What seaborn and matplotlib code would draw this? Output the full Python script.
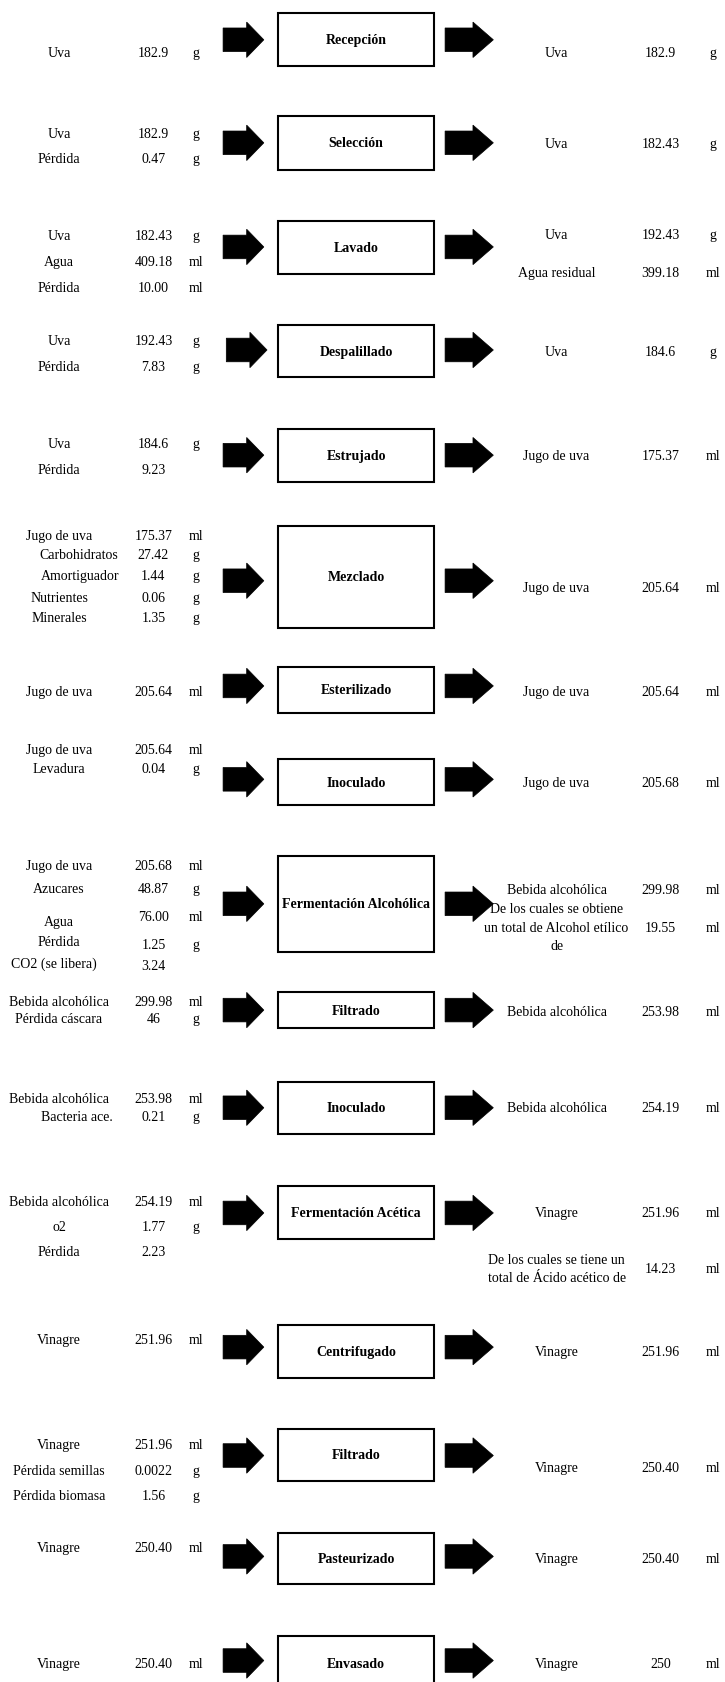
import matplotlib
matplotlib.use("Agg")
import matplotlib.pyplot as plt
from matplotlib.patches import Rectangle, Polygon
import seaborn as sns

# ---------------- data ----------------
steps = ["Recepción", "Selección", "Lavado", "Despalillado", "Estrujado", "Mezclado",
         "Esterilizado", "Inoculado", "Fermentación Alcohólica", "Filtrado", "Inoculado",
         "Fermentación Acética", "Centrifugado", "Filtrado", "Pasteurizado", "Envasado"]

in_labels = [
    ["Uva"], ["Uva", "Pérdida"], ["Uva", "Agua", "Pérdida"], ["Uva", "Pérdida"],
    ["Uva", "Pérdida"],
    ["Jugo de uva", "Carbohidratos", "Amortiguador", "Nutrientes", "Minerales"],
    ["Jugo de uva"], ["Jugo de uva", "Levadura"],
    ["Jugo de uva", "Azucares", "Agua", "Pérdida", "CO2 (se libera)"],
    ["Bebida alcohólica", "Pérdida cáscara"], ["Bebida alcohólica", "Bacteria ace."],
    ["Bebida alcohólica", "o2", "Pérdida"], ["Vinagre"],
    ["Vinagre", "Pérdida semillas", "Pérdida biomasa"], ["Vinagre"], ["Vinagre"]]
in_values = [
    ["182.9"], ["182.9", "0.47"], ["182.43", "409.18", "10.00"], ["192.43", "7.83"],
    ["184.6", "9.23"], ["175.37", "27.42", "1.44", "0.06", "1.35"],
    ["205.64"], ["205.64", "0.04"], ["205.68", "48.87", "76.00", "1.25", "3.24"],
    ["299.98", "46"], ["253.98", "0.21"], ["254.19", "1.77", "2.23"], ["251.96"],
    ["251.96", "0.0022", "1.56"], ["250.40"], ["250.40"]]
in_units = [
    ["g"], ["g", "g"], ["g", "ml", "ml"], ["g", "g"], ["g", ""],
    ["ml", "g", "g", "g", "g"], ["ml"], ["ml", "g"], ["ml", "g", "ml", "g", ""],
    ["ml", "g"], ["ml", "g"], ["ml", "g", ""], ["ml"], ["ml", "g", "g"], ["ml"], ["ml"]]

out_labels = ["Uva", "Uva", ["Uva", "Agua residual"], "Uva", "Jugo de uva", "Jugo de uva",
              "Jugo de uva", "Jugo de uva", "Bebida alcohólica", "Bebida alcohólica",
              "Bebida alcohólica", "Vinagre", "Vinagre", "Vinagre", "Vinagre", "Vinagre"]
out_values = ["182.9", "182.43", ["192.43", "399.18"], "184.6", "175.37", "205.64",
              "205.64", "205.68", "299.98", "253.98", "254.19", "251.96", "251.96",
              "250.40", "250.40", "250"]
out_units = ["g", "g", ["g", "ml"], "g", "ml", "ml", "ml", "ml", "ml", "ml", "ml", "ml",
             "ml", "ml", "ml", "ml"]

notes = {8: (["De los cuales se obtiene", "un total de Alcohol etílico", "de"], "19.55", "ml"),
         11: (["De los cuales se tiene un", "total de Ácido acético de"], "14.23", "ml")}

# ---------------- layout (reference coordinates) ----------------
box_top = [13, 109, 207, 304, 401, 491, 622, 708, 798, 925, 1009, 1106, 1235, 1332, 1429, 1525]
box_bot = [62, 159, 256, 352, 450, 586, 665, 751, 888, 959, 1057, 1155, 1285, 1381, 1477, 1600]
arrow_y = [38, 134, 231, 327, 425, 542, 640, 727, 843, 942, 1033, 1131, 1256, 1357, 1451, 1548]
left_arrow_dx = [0, 0, 0, 3, 0, 0, 0, 0, 0, 0, 0, 0, 0, 0, 0, 0]
in_y = [[50], [125, 149], [220, 245, 269], [318, 342], [414, 438],
        [500, 518, 537, 558, 576], [645], [699, 717], [807, 829, 859, 878, 898],
        [934, 950], [1024, 1041], [1120, 1144, 1167], [1249], [1347, 1371, 1394],
        [1443], [1551]]
in_val_dy = {(8, 2): -4, (8, 3): 3, (8, 4): 2}
in_x = {(5, 1): 73, (5, 2): 75, (8, 4): 50, (10, 1): 72}
out_y = [50, 135, [219, 255], 328, 425, 548, 645, 730, 830, 943, 1033, 1131, 1260, 1368, 1453, 1551]
note_y = {8: ([847, 865, 882], 865), 11: ([1174, 1191], 1183)}

X_LAB, X_VAL, X_UNIT = 55, 143, 183
XR_LAB, XR_VAL, XR_UNIT = 519, 616, 665
BOX_X0, BOX_X1 = 259, 405

sns.set_theme(style="white")
plt.rcParams["font.family"] = ["Liberation Serif", "DejaVu Serif"]

fig = plt.figure(figsize=(7.25, 16.83), dpi=100)
ax = fig.add_axes([0, 0, 1, 1])
ax.set_xlim(0, 676)
ax.set_ylim(1568, 0)
ax.axis("off")

FS = 10
txt = dict(fontsize=FS, ha="center", va="center", color="black")


def arrow(x0, xh, xt, yc, hs=11.0, hh=16.5):
    pts = [(x0, yc - hs), (xh, yc - hs), (xh, yc - hh), (xt, yc), (xh, yc + hh),
           (xh, yc + hs), (x0, yc + hs)]
    ax.add_patch(Polygon(pts, closed=True, facecolor="black", edgecolor="black", lw=0.5))


for i, name in enumerate(steps):
    ax.add_patch(Rectangle((BOX_X0, box_top[i]), BOX_X1 - BOX_X0, box_bot[i] - box_top[i],
                           facecolor="white", edgecolor="black", lw=1.5))
    ax.text((BOX_X0 + BOX_X1) / 2, (box_top[i] + box_bot[i]) / 2 if i < 15 else 1551,
            name, fontweight="bold", **txt)
    dx = left_arrow_dx[i]
    arrow(208 + dx, 230 + dx, 246 + dx, arrow_y[i])
    arrow(415, 441, 460, arrow_y[i])

    for j, lab in enumerate(in_labels[i]):
        y = in_y[i][j]
        ax.text(in_x.get((i, j), X_LAB), y, lab, **txt)
        yv = y + in_val_dy.get((i, j), 0)
        ax.text(X_VAL, yv, in_values[i][j], **txt)
        if in_units[i][j]:
            ax.text(X_UNIT, yv, in_units[i][j], **txt)

    labs = out_labels[i] if isinstance(out_labels[i], list) else [out_labels[i]]
    vals = out_values[i] if isinstance(out_values[i], list) else [out_values[i]]
    units = out_units[i] if isinstance(out_units[i], list) else [out_units[i]]
    ys = out_y[i] if isinstance(out_y[i], list) else [out_y[i]]
    for lab, val, un, y in zip(labs, vals, units, ys):
        ax.text(XR_LAB, y, lab, **txt)
        ax.text(XR_VAL, y, val, **txt)
        ax.text(XR_UNIT, y, un, **txt)

    if i in notes:
        lines, val, un = notes[i]
        lys, vy = note_y[i]
        for line, y in zip(lines, lys):
            ax.text(XR_LAB, y, line, **txt)
        ax.text(XR_VAL, vy, val, **txt)
        ax.text(XR_UNIT, vy, un, **txt)

fig.savefig("out.png", dpi=100, facecolor="white")
